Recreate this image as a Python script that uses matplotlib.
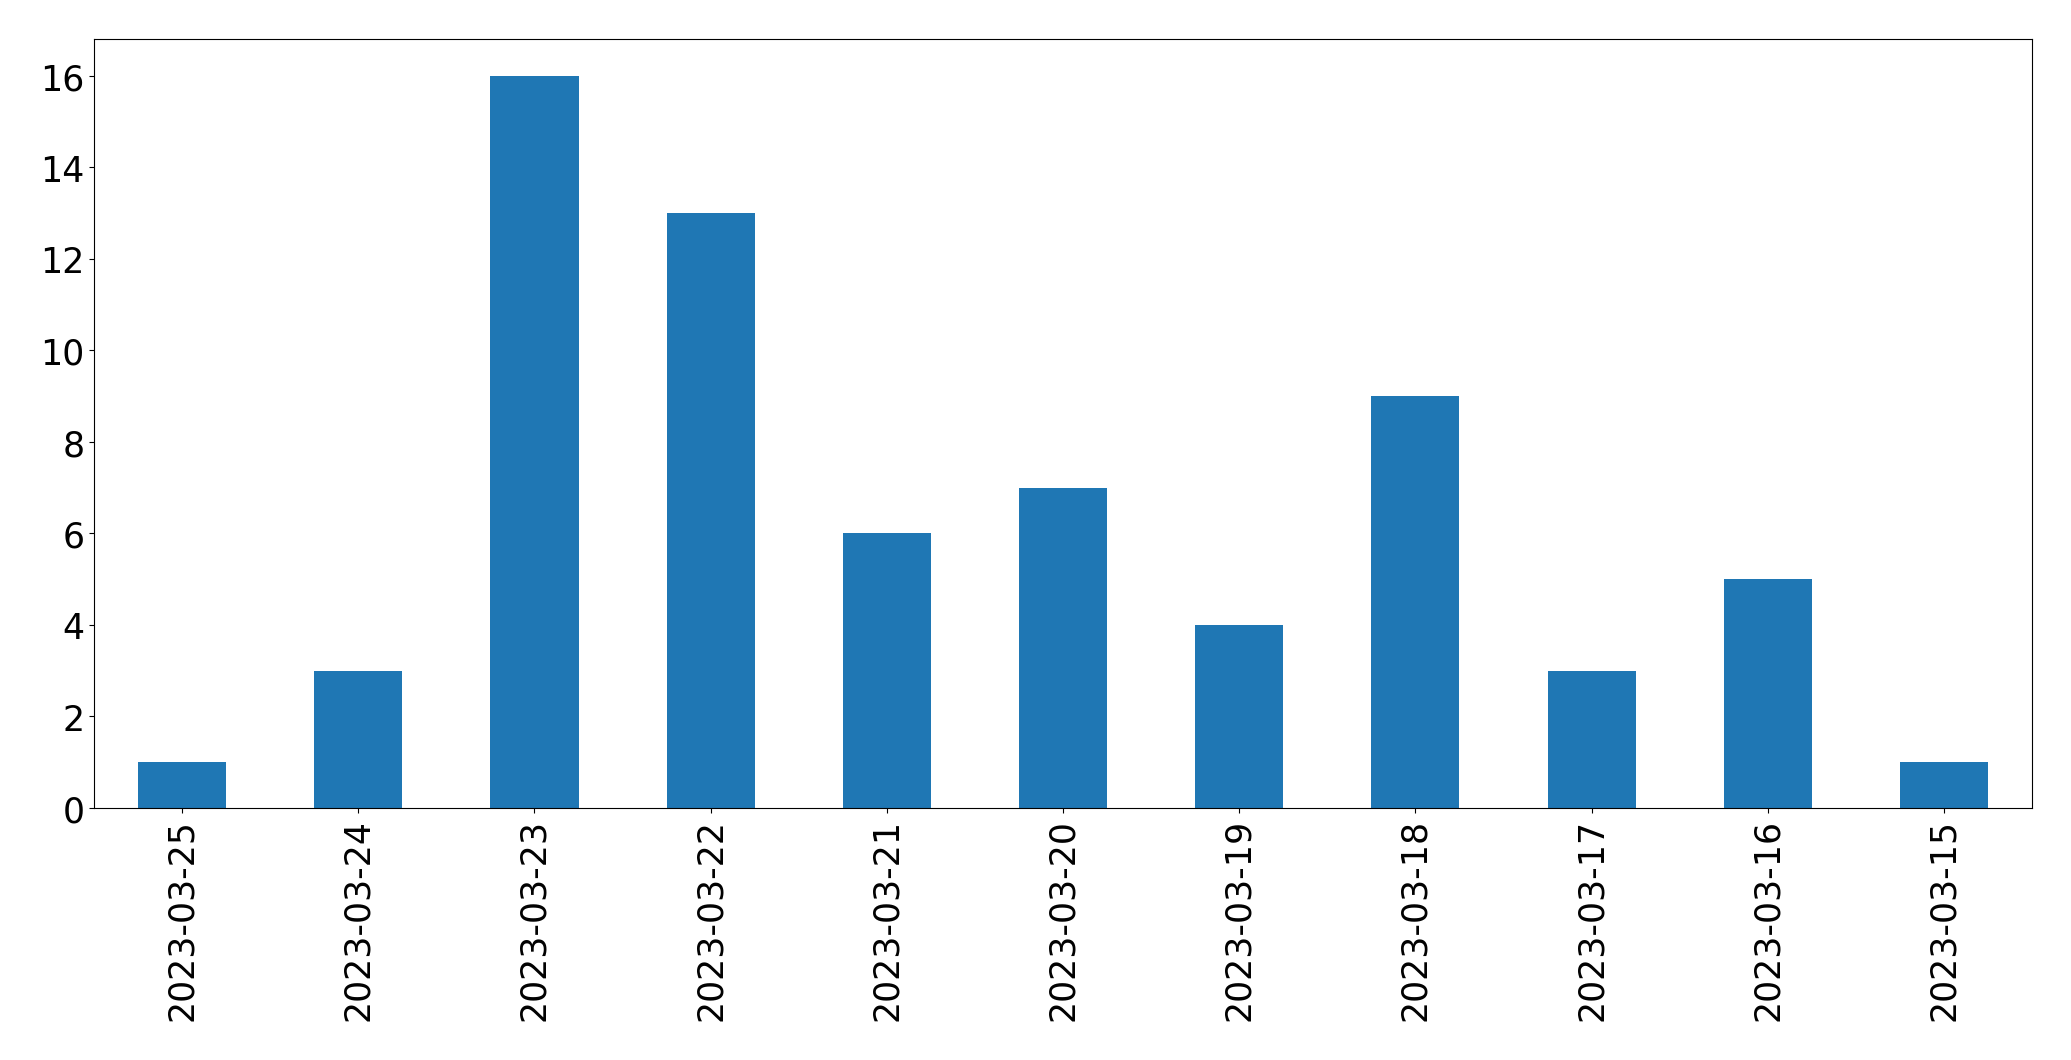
import matplotlib.pyplot as plt

# contagem diária
datas = ["2023-03-25", "2023-03-24", "2023-03-23", "2023-03-22", "2023-03-21",
         "2023-03-20", "2023-03-19", "2023-03-18", "2023-03-17", "2023-03-16",
         "2023-03-15"]
contagens = [1, 3, 16, 13, 6, 7, 4, 9, 3, 5, 1]

fig = plt.figure(figsize=(20.71, 10.609), dpi=100)
ax = fig.add_axes([94 / 2071, 252 / 1061, 1938 / 2071, 769 / 1061])

posicoes = range(len(datas))
ax.bar(posicoes, contagens, width=0.5, color='#1f77b4')
ax.set_xlim(-0.5, len(datas) - 0.5)
ax.set_xticks(list(posicoes))
ax.set_xticklabels(datas, rotation=90)
ax.tick_params(labelsize=25)

fig.savefig("out.png", dpi=100)
